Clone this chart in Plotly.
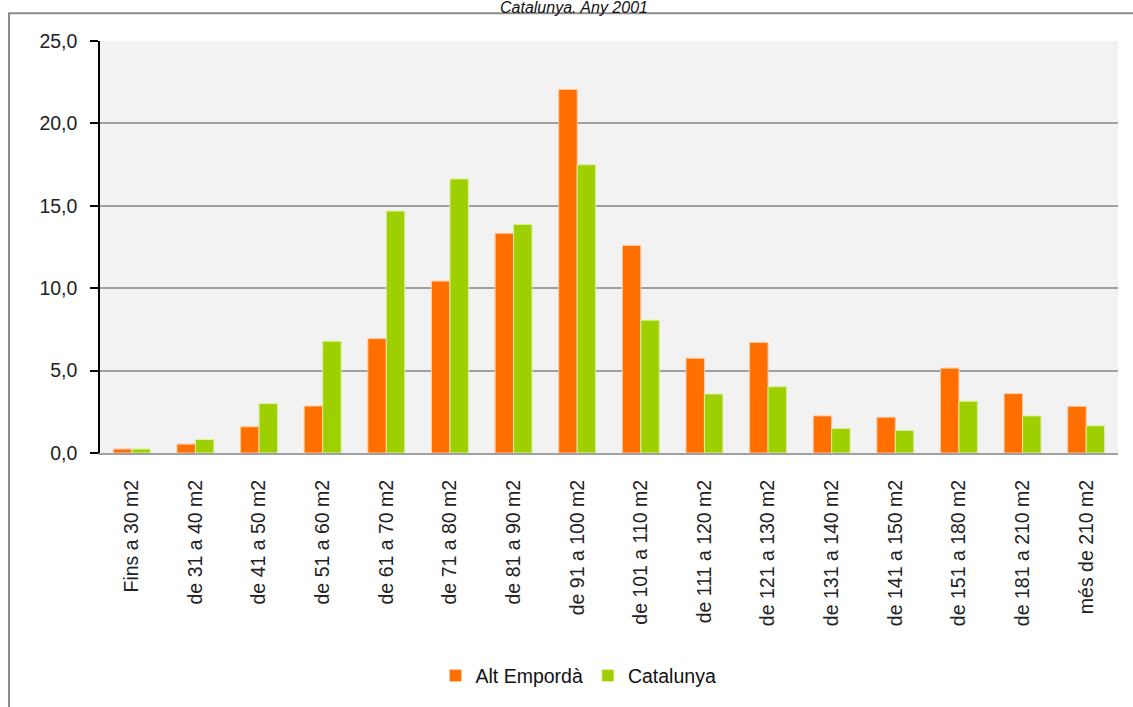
import plotly.graph_objects as go

categories = [
    "Fins a 30 m2", "de 31 a 40 m2", "de 41 a 50 m2", "de 51 a 60 m2",
    "de 61 a 70 m2", "de 71 a 80 m2", "de 81 a 90 m2", "de 91 a 100 m2",
    "de 101 a 110 m2", "de 111 a 120 m2", "de 121 a 130 m2", "de 131 a 140 m2",
    "de 141 a 150 m2", "de 151 a 180 m2", "de 181 a 210 m2", "més de 210 m2",
]
alt_emporda = [0.24, 0.54, 1.59, 2.85, 6.94, 10.43, 13.33, 22.06,
               12.59, 5.75, 6.71, 2.25, 2.17, 5.15, 3.60, 2.83]
catalunya = [0.24, 0.82, 3.00, 6.78, 14.68, 16.63, 13.87, 17.49,
             8.06, 3.58, 4.02, 1.49, 1.37, 3.14, 2.25, 1.65]
y_ticks = [0, 5, 10, 15, 20, 25]

FONT = "Liberation Sans"

fig = go.Figure()
fig.add_trace(go.Bar(x=categories, y=alt_emporda, name="Alt Empordà",
                     marker=dict(color="#ff6f00", line=dict(color="#ffc9a0", width=1))))
fig.add_trace(go.Bar(x=categories, y=catalunya, name="Catalunya",
                     marker=dict(color="#9ecf00", line=dict(color="#dcefa0", width=1))))

fig.update_layout(
    width=1133, height=707,
    margin=dict(l=100, r=15, t=41, b=252),
    paper_bgcolor="white",
    plot_bgcolor="#f2f2f2",
    separators=", ",
    barmode="group",
    bargap=0.42,
    bargroupgap=0,
    font=dict(family=FONT, size=19, color="#222222"),
    showlegend=True,
    legend=dict(orientation="h", x=0.47, xanchor="center", y=-0.541, yanchor="middle",
                font=dict(family=FONT, size=19.5, color="#111111"),
                itemwidth=30, bgcolor="rgba(0,0,0,0)"),
    xaxis=dict(
        tickangle=-90,
        showgrid=False,
        showline=True, linecolor="#a0a0a0", linewidth=2,
        ticks="", ticklabelstandoff=17,
        tickfont=dict(family=FONT, size=19.5, color="#222222"),
    ),
    yaxis=dict(
        range=[0, 25], tickvals=y_ticks, tickformat=".1f",
        showgrid=True, gridcolor="#a0a0a0", gridwidth=1.5,
        showline=True, linecolor="#000000", linewidth=1.5,
        ticks="outside", ticklen=8, tickcolor="#000000", tickwidth=1.5,
        ticklabelstandoff=9,
        zeroline=False,
        tickfont=dict(family=FONT, size=19.5, color="#222222"),
    ),
    annotations=[dict(
        text="Catalunya. Any 2001", xref="paper", yref="paper",
        x=0.466, y=1.082, xanchor="center", yanchor="middle", showarrow=False,
        font=dict(family=FONT, size=16, color="#111111", style="italic"),
    )],
    shapes=[dict(
        type="rect", xref="paper", yref="paper",
        x0=-0.0894, x1=1.1, y0=-0.7, y1=1.0676,
        line=dict(color="#8c8c8c", width=2), fillcolor="rgba(0,0,0,0)", layer="below",
    )],
)

fig.write_html("out.html", config={"displayModeBar": False},
               post_script="document.body.style.margin='0';")
